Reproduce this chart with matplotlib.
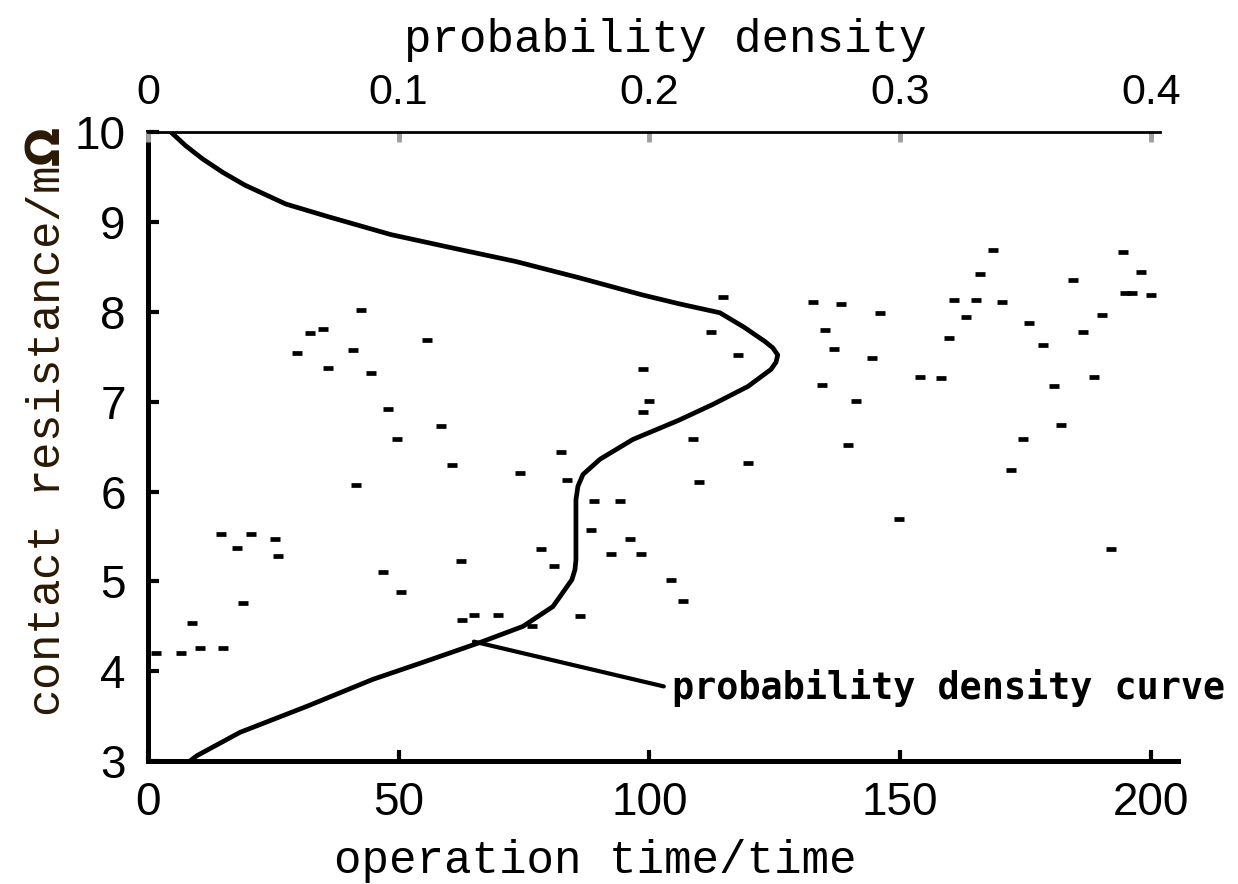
import matplotlib
matplotlib.use("Agg")
import matplotlib.pyplot as plt

# ---- data ----
operation_time = [42.5, 34.9, 32.3, 55.6, 29.7, 40.9, 35.9, 44.5, 98.7, 99.9,
                  98.7, 47.9, 58.4, 49.7, 82.4, 60.6, 74.2, 83.5, 41.5,
                  88.9, 94.1, 88.3, 96.1, 92.3, 98.3, 78.4, 81.0, 14.6, 20.5,
                  25.3, 17.7, 25.9, 62.4, 46.9, 50.4, 18.9, 8.8, 62.6, 65.0,
                  69.8, 86.1, 76.6, 1.6, 6.6, 10.4, 15.0, 104.3, 106.7,
                  114.7, 112.3, 117.6, 108.7, 119.6, 109.9, 132.6, 138.2, 146.0,
                  135.0, 136.8, 144.4, 134.4, 141.2, 139.6, 149.7,
                  168.5, 165.9, 160.7, 165.1, 170.3, 163.1, 159.7, 153.9, 158.1,
                  175.7, 178.5, 180.7, 184.4, 194.4, 198.0, 190.2, 186.4, 194.8,
                  196.2, 200.0, 188.6, 182.1, 174.5, 172.1, 192.0]
contact_resistance = [8.02, 7.81, 7.76, 7.69, 7.54, 7.57, 7.38, 7.32, 7.36, 7.01,
                      6.88, 6.92, 6.73, 6.59, 6.44, 6.30, 6.21, 6.13, 6.07,
                      5.90, 5.90, 5.57, 5.47, 5.30, 5.30, 5.36, 5.17, 5.53, 5.53,
                      5.47, 5.37, 5.28, 5.23, 5.11, 4.88, 4.76, 4.54, 4.57, 4.63,
                      4.63, 4.61, 4.50, 4.20, 4.20, 4.26, 4.26, 5.02, 4.78,
                      8.17, 7.78, 7.52, 6.59, 6.32, 6.11, 8.11, 8.09, 7.99,
                      7.80, 7.59, 7.49, 7.19, 7.01, 6.52, 5.69,
                      8.69, 8.42, 8.13, 8.13, 8.11, 7.94, 7.71, 7.28, 7.26,
                      7.88, 7.63, 7.18, 8.36, 8.67, 8.44, 7.97, 7.78, 8.21,
                      8.21, 8.19, 7.28, 6.74, 6.58, 6.24, 5.36]

curve_resistance = [10.0, 9.85, 9.7, 9.55, 9.41, 9.2, 9.06, 8.86, 8.71, 8.56,
                    8.38, 8.19, 8.09, 7.99, 7.83, 7.67, 7.60, 7.52, 7.44, 7.36,
                    7.17, 6.97, 6.79, 6.58, 6.36, 6.19, 6.06, 5.91, 5.54, 5.24,
                    5.13, 5.02, 4.83, 4.72, 4.50, 4.32, 4.10, 3.91, 3.61, 3.32,
                    3.06, 3.0]
curve_density = [0.0092, 0.0150, 0.0219, 0.0300, 0.0387, 0.0550, 0.0718, 0.0969,
                 0.1216, 0.1468, 0.1719, 0.1970, 0.2118, 0.2281, 0.2377, 0.2461,
                 0.2492, 0.2512, 0.2505, 0.2485, 0.2393, 0.2253, 0.2114, 0.1934,
                 0.1803, 0.1735, 0.1715, 0.1707, 0.1707, 0.1707, 0.1703, 0.1691,
                 0.1643, 0.1615, 0.1496, 0.1324, 0.1097, 0.0897, 0.0634, 0.0367,
                 0.0195, 0.0167]

x_ticks = [0, 50, 100, 150, 200]
y_ticks = [3, 4, 5, 6, 7, 8, 9, 10]
top_ticks = [0, 0.1, 0.2, 0.3, 0.4]
top_tick_labels = ["0", "0.1", "0.2", "0.3", "0.4"]

annot_text = "probability density curve"
annot_xy = (65, 4.33)
annot_text_xy = (104.5, 3.81)

# ---- figure ----
fig = plt.figure(figsize=(12.38, 8.84), dpi=100)
ax = fig.add_axes([0.1195, 0.139, 0.832, 0.7115])
x_max = 205.4
ax.set_xlim(0, x_max)
ax.set_ylim(3, 10)

ax.plot(operation_time, contact_resistance, linestyle="none", marker="_",
        markersize=7.5, markeredgewidth=3.4, color="black", zorder=3)

ax2 = ax.twiny()
ax2.set_xlim(0, x_max / 500.0)
ax2.plot(curve_density, curve_resistance, color="black", lw=3.4,
         solid_joinstyle="round", solid_capstyle="round", zorder=4)

# spines
ax.spines["right"].set_visible(False)
ax2.spines["right"].set_visible(False)
ax2.spines["left"].set_visible(False)
ax2.spines["bottom"].set_visible(False)
ax.spines["top"].set_visible(False)
ax.spines["left"].set_linewidth(3.6)
ax.spines["bottom"].set_linewidth(3.6)
ax2.spines["top"].set_linewidth(2.0)
ax2.spines["top"].set_bounds(0, 0.4036)

tick_font = dict(family=["Liberation Sans", "DejaVu Sans"], size=33)
ax.set_xticks(x_ticks)
ax.set_yticks(y_ticks)
ax.set_xticklabels([str(v) for v in x_ticks], **tick_font)
ax.set_yticklabels([str(v) for v in y_ticks], **tick_font)
ax.tick_params(axis="x", direction="in", length=8, width=3, pad=14)
ax.tick_params(axis="y", direction="in", length=8, width=3, pad=16)

ax2.set_xticks(top_ticks)
ax2.set_xticklabels(top_tick_labels, family=["Liberation Sans", "DejaVu Sans"],
                    size=31)
ax2.tick_params(axis="x", direction="in", length=7, width=3.5,
                color="#a0a0a0", pad=14)

label_font = dict(family=["Liberation Mono", "DejaVu Sans Mono"], size=33)
ax.set_xlabel("operation time/time", **label_font)
ax.xaxis.set_label_coords(0.434, -0.124)
ax2.set_xlabel("probability density", **label_font)
ax2.xaxis.set_label_coords(0.502, 1.127)
ax.set_ylabel("contact resistance/m$\\mathbf{\\Omega}$",
              color="#2a1a05", **label_font)
ax.yaxis.set_label_coords(-0.076, 0.54)

ax.annotate(annot_text, xy=annot_xy, xytext=annot_text_xy,
            ha="left", va="center",
            family=["DejaVu Sans Mono"], fontweight="bold", size=26.5,
            arrowprops=dict(arrowstyle="-", lw=3, color="black",
                            relpos=(0, 0.5), shrinkA=4, shrinkB=0),
            zorder=5)

fig.savefig("out.png", dpi=100)
